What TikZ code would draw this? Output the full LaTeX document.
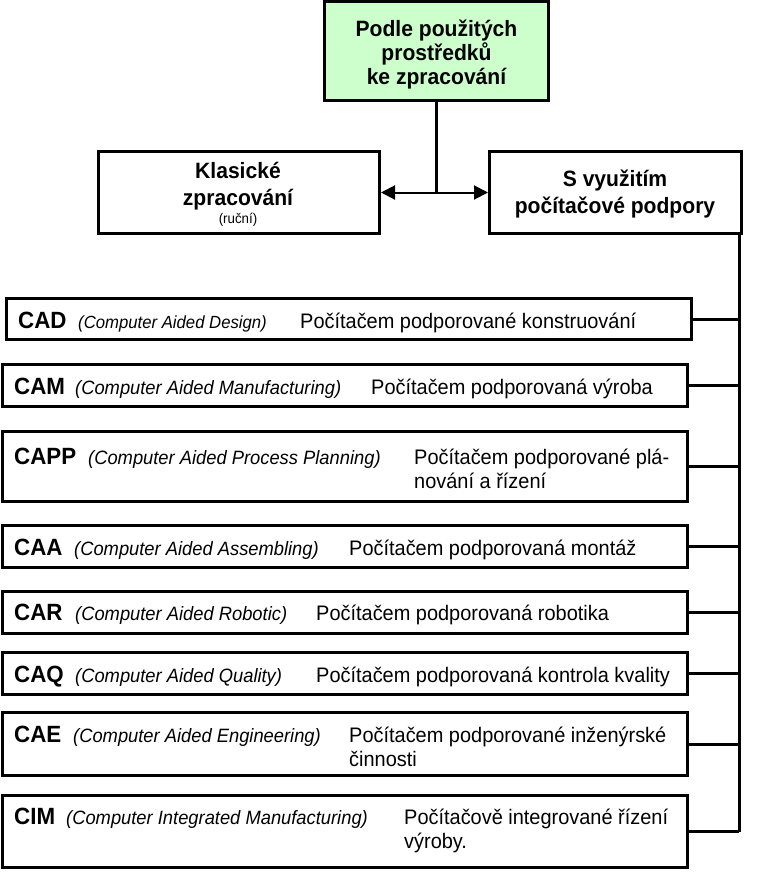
\documentclass[tikz,border=0pt]{standalone}
\usepackage{fontspec}
\setmainfont{Liberation Sans}
\newfontfamily\nfont[FakeStretch=0.95]{Liberation Sans}
\usetikzlibrary{arrows.meta}
\definecolor{topgreen}{RGB}{204,255,204}
\begin{document}
\begin{tikzpicture}[x=1pt,y=-1pt,
  box/.style={draw, line width=3pt, anchor=north west, inner sep=0pt},
  conn/.style={line width=3pt},
  twoarrow/.style={line width=2pt, -{Triangle[length=14pt,width=14pt]}},
  headtxt/.style={inner sep=0pt, font=\nfont\bfseries\fontsize{22.2}{25}\selectfont, align=center},
  smalltxt/.style={inner sep=0pt, font=\nfont\fontsize{14}{15}\selectfont},
  abbr/.style={inner sep=0pt, anchor=base west, font=\nfont\bfseries\fontsize{23.5}{24}\selectfont},
  ital/.style={inner sep=0pt, anchor=base west, font=\nfont\itshape\fontsize{19.3}{20}\selectfont},
  desc/.style={inner sep=0pt, anchor=base west, font=\nfont\fontsize{21}{24}\selectfont},
]
\useasboundingbox (0,0) rectangle (779,873);

% top level boxes
\node[box, fill=topgreen, minimum width=224pt, minimum height=99pt] (top) at (323,0) {};
\node[box, minimum width=281pt, minimum height=82pt] (kl) at (97,150) {};
\node[box, minimum width=252pt, minimum height=82pt] (sp) at (488,150) {};

\node[headtxt, font=\nfont\bfseries\fontsize{22.2}{24}\selectfont] (toptxt) at (436.5,55) {Podle použitých\\prostředků\\ke zpracování};
\node[headtxt, font=\nfont\bfseries\fontsize{22.2}{26.5}\selectfont] (kltxt) at (238,186) {Klasické\\zpracování};
\node[smalltxt] (klsub) at (238,220) {(ruční)};
\node[headtxt, font=\nfont\bfseries\fontsize{22.2}{26.5}\selectfont] (sptxt) at (615,194) {S využitím\\počítačové podpory};

% split arrows
\coordinate (split) at (top.south |- kl.east);
\draw[conn] (top.south) -- (split);
\draw[twoarrow] (split) -- (kl.east);
\draw[twoarrow] (split) -- (sp.west);

% rows
\node[box, minimum width=685pt, minimum height=41pt] (cad) at (5,297) {};
\node[box, minimum width=685pt, minimum height=42pt] (cam) at (1,363) {};
\node[box, minimum width=685pt, minimum height=70pt] (capp) at (1,430) {};
\node[box, minimum width=685pt, minimum height=42pt] (caa) at (1,524) {};
\node[box, minimum width=685pt, minimum height=42pt] (car) at (1,590) {};
\node[box, minimum width=685pt, minimum height=42pt] (caq) at (1,651) {};
\node[box, minimum width=685pt, minimum height=63pt] (cae) at (1,711) {};
\node[box, minimum width=685pt, minimum height=72pt] (cim) at (1,794) {};

% bus
\coordinate (bus) at (739,0);
\draw[conn] (sp.south -| bus) -- (cim.east -| bus);
\foreach \r in {cad,cam,capp,caa,car,caq,cae,cim}{
  \draw[conn] (\r.east) -- (\r.east -| bus);
}

% row texts
\node[abbr] (cadA) at (18,328) {CAD};
\node[ital, font=\nfont\itshape\fontsize{17.6}{20}\selectfont] (cadI) at (78,328) {(Computer Aided Design)};
\node[desc] (cadD) at (300,328) {Počítačem podporované konstruování};

\node[abbr] (camA) at (14,394) {CAM};
\node[ital] (camI) at (75,394) {(Computer Aided Manufacturing)};
\node[desc] (camD) at (371,394) {Počítačem podporovaná výroba};

\node[abbr] (cappA) at (14,464) {CAPP};
\node[ital] (cappI) at (88,464) {(Computer Aided Process Planning)};
\node[desc] (cappD) at (414,464) {Počítačem podporované plá-};
\node[desc] (cappD2) at (414,488) {nování a řízení};

\node[abbr] (caaA) at (14,555) {CAA};
\node[ital] (caaI) at (74,555) {(Computer Aided Assembling)};
\node[desc] (caaD) at (349,555) {Počítačem podporovaná montáž};

\node[abbr] (carA) at (14,620) {CAR};
\node[ital] (carI) at (75,620) {(Computer Aided Robotic)};
\node[desc] (carD) at (316,620) {Počítačem podporovaná robotika};

\node[abbr] (caqA) at (14,682) {CAQ};
\node[ital] (caqI) at (75,682) {(Computer Aided Quality)};
\node[desc] (caqD) at (316,682) {Počítačem podporovaná kontrola kvality};

\node[abbr] (caeA) at (14,742) {CAE};
\node[ital] (caeI) at (73,742) {(Computer Aided Engineering)};
\node[desc] (caeD) at (349,742) {Počítačem podporované inženýrské};
\node[desc] (caeD2) at (349,766) {činnosti};

\node[abbr] (cimA) at (14,824) {CIM};
\node[ital] (cimI) at (66,824) {(Computer Integrated Manufacturing)};
\node[desc] (cimD) at (404,824) {Počítačově integrované řízení};
\node[desc] (cimD2) at (404,848) {výroby.};
\end{tikzpicture}
\end{document}
